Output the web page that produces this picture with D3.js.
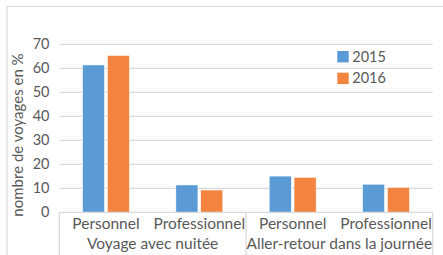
<!DOCTYPE html>
<html><head><meta charset="utf-8">
<script src="https://cdn.jsdelivr.net/npm/d3@7"></script>
<style>html,body{margin:0;padding:0;background:#fff;}svg{display:block;}</style>
</head><body>
<svg id="c" width="443" height="255"></svg>
<script>
const categories = ["Personnel", "Professionnel", "Personnel", "Professionnel"];
const groups = ["Voyage avec nuitée", "Aller-retour dans la journée"];
const series = ["2015", "2016"];
const values2015 = [61.4, 11.4, 15.1, 11.7];
const values2016 = [65.4, 9.3, 14.6, 10.4];
const yTicks = [0, 10, 20, 30, 40, 50, 60, 70];
const yTitle = "nombre de voyages en %";

(function(){
const colors = {"2015": "#5B9BD5", "2016": "#F28440"};
const font = "Lato, 'Open Sans', sans-serif";
const textColor = "#595959";
const lineColor = "#d9d9d9";

const svg = d3.select("#c");
const W = 443, H = 255;
const pl = 59.3, pr = 432.7, pt = 44.3, pb = 212.3;

svg.append("path").attr("d", `M7,${H} V6.5 H${W}`).attr("fill","none").attr("stroke",lineColor).attr("stroke-width",1.2);

const y = d3.scaleLinear().domain([0,70]).range([pb, pt]);
const idx = d3.range(categories.length);
const x = d3.scaleBand().domain(idx).range([pl, pr]).paddingInner(0).paddingOuter(0);
const bw = x.bandwidth();
const x1 = d3.scaleBand().domain(series).range([bw/2 - 23.5, bw/2 + 23.5]).paddingInner(0.11);

svg.append("g").selectAll("line").data(yTicks.filter(d=>d>0)).join("line")
  .attr("x1", pl).attr("x2", pr).attr("y1", d=>y(d)).attr("y2", d=>y(d))
  .attr("stroke", lineColor).attr("stroke-width", 1.2);

svg.append("g").selectAll("text").data(yTicks).join("text")
  .attr("x", 49.5).attr("y", d=>y(d)).attr("dy","0.35em").attr("text-anchor","end")
  .attr("font-family", font).attr("font-size", 14.5).attr("fill", textColor).text(d=>d);

svg.append("text").attr("transform", `translate(23,${135}) rotate(-90)`)
  .attr("text-anchor","middle").attr("font-family", font).attr("font-size", 15)
  .attr("fill", textColor).text(yTitle);

const data = idx.map(i => ({i, vals: [{s:"2015", v: values2015[i]}, {s:"2016", v: values2016[i]}]}));
const g = svg.append("g").selectAll("g").data(data).join("g").attr("transform", d=>`translate(${x(d.i)},0)`);
g.selectAll("rect").data(d=>d.vals).join("rect")
  .attr("x", d=>x1(d.s)).attr("width", x1.bandwidth())
  .attr("y", d=>y(d.v)).attr("height", d=>y(0)-y(d.v))
  .attr("fill", d=>colors[d.s]).attr("stroke","#fff").attr("stroke-width",0.6);

svg.append("line").attr("x1", pl).attr("x2", pr).attr("y1", pb).attr("y2", pb)
  .attr("stroke", lineColor).attr("stroke-width", 1.2);
[0, 2, 4].forEach(k => {
  const xx = k < 4 ? x(k) : pr;
  svg.append("line").attr("x1", xx).attr("x2", xx).attr("y1", pb).attr("y2", H)
    .attr("stroke", lineColor).attr("stroke-width", 1.2);
});
svg.append("g").selectAll("text").data(idx).join("text")
  .attr("x", d=>x(d)+bw/2).attr("y", 228.8).attr("text-anchor","middle")
  .attr("font-family", font).attr("font-size", 15.5).attr("fill", textColor).text(d=>categories[d]);
svg.append("g").selectAll("text").data(groups).join("text")
  .attr("x", (d,i)=> (x(i*2) + (i*2+2<4 ? x(i*2+2) : pr))/2).attr("y", 248.8).attr("text-anchor","middle")
  .attr("font-family", font).attr("font-size", 15.5).attr("fill", textColor).text(d=>d);

const lg = svg.append("g").selectAll("g").data(series).join("g")
  .attr("transform", (d,i)=>`translate(337.3,${51 + i*21.7})`);
lg.append("rect").attr("width", 11.4).attr("height", 11.4).attr("fill", d=>colors[d]);
lg.append("text").attr("x", 15).attr("y", 5.7).attr("dy","0.35em")
  .attr("font-family", font).attr("font-size", 14.5).attr("fill", textColor).text(d=>d);
})();
</script>
</body></html>
